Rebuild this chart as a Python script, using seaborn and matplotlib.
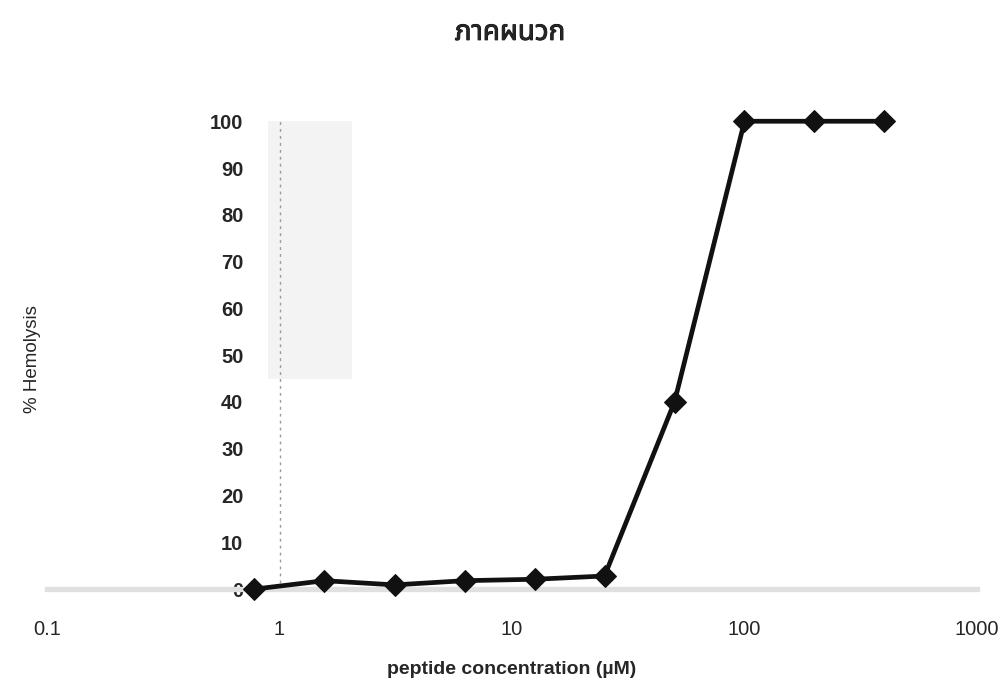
import pandas as pd
import seaborn as sns
import matplotlib.pyplot as plt
import matplotlib.patheffects as pe

# data
concentration = [0.78, 1.56, 3.125, 6.25, 12.5, 25, 50, 100, 200, 400]
hemolysis = [0, 1.8, 0.9, 1.8, 2.1, 2.8, 40, 100, 100, 100]
x_ticks = [0.1, 1, 10, 100, 1000]
x_tick_labels = ['0.1', '1', '10', '100', '1000']
y_ticks = [0, 10, 20, 30, 40, 50, 60, 70, 80, 90, 100]

data = pd.DataFrame({'conc': concentration, 'hemo': hemolysis})

sns.set_style('white')
plt.rcParams['font.family'] = ['Liberation Sans', 'DejaVu Sans']

fig = plt.figure(figsize=(10.02, 6.85), dpi=100)
ax = fig.add_axes([0.047, 0.140, 0.928, 0.683])

# axes style of the original: y axis crosses at x=1, x axis at y=0
# (spine position first, it resets the tick labels)
ax.spines['top'].set_visible(False)
ax.spines['right'].set_visible(False)
ax.spines['left'].set_position(('data', 1))
ax.spines['left'].set_color('#999999')
ax.spines['left'].set_linestyle((0, (1, 4)))
ax.spines['left'].set_linewidth(1)
ax.spines['bottom'].set_color('#e0e0e0')
ax.spines['bottom'].set_linewidth(3.8)

# faint grey patch from the scan, left of the curve
ax.axvspan(0.89, 2.04, ymin=0.45, ymax=1.0, color='#f3f3f3', lw=0, zorder=0)

sns.lineplot(data=data, x='conc', y='hemo', ax=ax, color='#111111',
             linewidth=3.4, marker='D', markersize=11,
             markeredgecolor='#111111', clip_on=False, zorder=5)

ax.set_xscale('log')
ax.set_xlim(0.1, 1000)
ax.set_ylim(0, 100)
ax.set_xticks(x_ticks)
ax.set_xticklabels(x_tick_labels, fontsize=14.5)
ax.minorticks_off()
ax.set_yticks(y_ticks)
ax.set_yticklabels([str(v) for v in y_ticks], fontsize=14.5, fontweight='bold')
ax.tick_params(axis='x', length=0, pad=22)
ax.tick_params(axis='y', length=0, pad=26)

ax.set_xlabel('peptide concentration (µM)', fontsize=14, fontweight='bold',
              labelpad=16)
ax.set_ylabel('% Hemolysis', fontsize=13.5)
ax.yaxis.set_label_coords(-0.0065, 0.491)

# the Thai font has no bold face, so thicken it a little with a stroke
title = fig.text(0.509, 0.952, 'ภาคผนวก', ha='center', va='center',
                 fontsize=20, fontweight='bold',
                 family=['Noto Sans Thai', 'Loma', 'Garuda', 'Tlwg Typo',
                         'Noto Sans', 'DejaVu Sans'])
title.set_path_effects([pe.withStroke(linewidth=0.7, foreground='#111111')])

fig.savefig('out.png', dpi=100)
